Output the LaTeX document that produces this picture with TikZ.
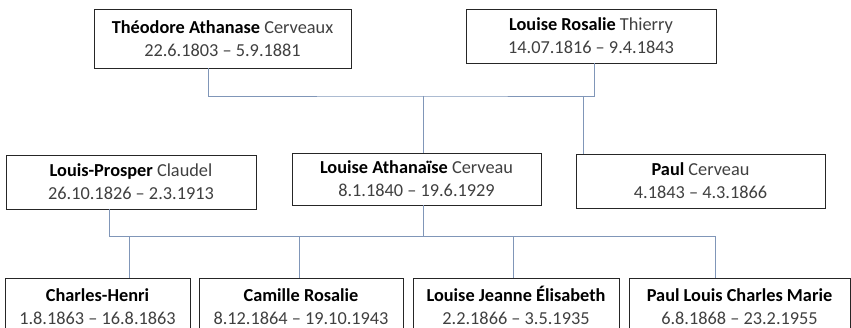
\documentclass[tikz,border=0pt]{standalone}
\usepackage{fontspec}
\setmainfont{Carlito}
\usepackage{tikz}
\usepackage{color}
\definecolor{linkblue}{RGB}{128,150,184}
\definecolor{datgray}{RGB}{64,64,64}

\begin{document}
\begin{tikzpicture}[x=1pt, y=-1pt, person/.style={draw=black!85, line width=0.9pt, fill=white, align=center, text=datgray, inner sep=0pt, font=\fontsize{18.3}{23}\selectfont}, link/.style={draw=linkblue, line width=0.9pt}]
            \useasboundingbox (0,0) rectangle (851,328);
            % grandparents
            \node[person, minimum width=257pt, minimum height=59pt] (theodore) at (222.5,38.5) {\textbf{\color{black}Théodore Athanase} Cerveaux\\22.6.1803 -- 5.9.1881};
            \node[person, minimum width=250pt, minimum height=54pt] (rosalie) at (591,36) {\textbf{\color{black}Louise Rosalie} Thierry\\14.07.1816 -- 9.4.1843};
            % parents
            \node[person, minimum width=250pt, minimum height=54pt] (prosper) at (131,182) {\textbf{\color{black}Louis-Prosper} Claudel\\26.10.1826 -- 2.3.1913};
            \node[person, minimum width=249pt, minimum height=52pt] (athanaise) at (416.5,179) {\textbf{\color{black}Louise Athanaïse} Cerveau\\8.1.1840 -- 19.6.1929};
            \node[person, minimum width=249pt, minimum height=54pt] (paul) at (700.5,181) {\textbf{\color{black}Paul} Cerveau\\4.1843 -- 4.3.1866};
            % children
            \node[person, minimum width=185pt, minimum height=58pt] (charles) at (97.5,307) {\textbf{\color{black}Charles-Henri}\\1.8.1863 -- 16.8.1863};
            \node[person, minimum width=204pt, minimum height=58pt] (camille) at (301,307) {\textbf{\color{black}Camille Rosalie}\\8.12.1864 -- 19.10.1943};
            \node[person, minimum width=206pt, minimum height=58pt] (jeanne) at (516,307) {\textbf{\color{black}Louise Jeanne \smash{É}lisabeth}\\2.2.1866 -- 3.5.1935};
            \node[person, minimum width=221pt, minimum height=58pt] (paullouis) at (739.5,307) {\textbf{\color{black}Paul Louis Charles Marie}\\6.8.1868 -- 23.2.1955};
            \coordinate (top) at (423,96);
            \coordinate (bottom) at (423,236);
            \coordinate (sibling) at (583,96);
            \coordinate (last) at (715,236);
            % connectors
            \draw[link] ([xshift=-14.5pt]theodore.south) |- (top) -| ([xshift=3pt]rosalie.south);
            \draw[link] (top) -- (top |- athanaise.north);
            \draw[link] (sibling) -- (sibling |- paul.north);
            \draw[link] ([xshift=-22pt]prosper.south) |- (bottom) -- (bottom |- athanaise.south);
            \draw[link] (bottom) -- (last) -- (last |- paullouis.north);
            \draw[link] ([xshift=31.5pt]charles.north) |- (bottom);
            \draw[link] ([xshift=-2pt]camille.north) |- (bottom);
            \draw[link] ([xshift=-3pt]jeanne.north) |- (bottom);
        \end{tikzpicture}
\end{document}
